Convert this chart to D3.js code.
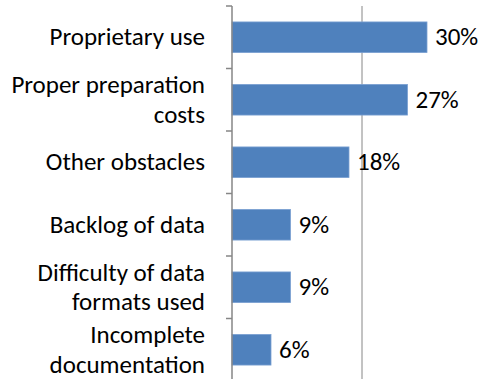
<!DOCTYPE html>
<html><head><meta charset="utf-8">
<script src="https://cdn.jsdelivr.net/npm/d3@7"></script>
<style>
body{margin:0;background:#fff}
text{font-family:Carlito,Calibri,Lato,sans-serif;font-size:25px;fill:#000}
</style>
</head><body>
<svg id="chart" width="489" height="379"></svg>
<script>
// chart data
var categories = [
	['Proprietary use'],
	['Proper preparation', 'costs'],
	['Other obstacles'],
	['Backlog of data'],
	['Difficulty of data', 'formats used'],
	['Incomplete', 'documentation']
];
var values = [0.30, 0.27, 0.18, 0.09, 0.09, 0.06];
var gridTicks = [0.2, 0.4];

var margin = {top: 6, left: 232};
var plotW = 260;
var plotH = 375;
var lineH = 29.5;

var svg = d3.select('#chart');
var keys = categories.map(function(d, i) { return i; });

var x = d3.scaleLinear().domain([0, 0.4]).range([0, plotW]);
var y = d3.scaleBand().domain(keys).range([0, plotH]).paddingInner(0.51).paddingOuter(0.255);

var g = svg.append('g')
	.attr('transform', 'translate(' + margin.left + ',' + margin.top + ')');

// gridlines
g.selectAll('.grid')
	.data(gridTicks)
	.enter()
	.append('line')
	.attr('x1', function(d) { return x(d); })
	.attr('x2', function(d) { return x(d); })
	.attr('y1', 0)
	.attr('y2', plotH)
	.attr('stroke', '#868686')
	.attr('stroke-width', 1);

// bars
g.selectAll('.bar')
	.data(values)
	.enter()
	.append('rect')
	.attr('x', 0)
	.attr('y', function(d, i) { return y(i); })
	.attr('width', function(d) { return x(d); })
	.attr('height', y.bandwidth())
	.attr('fill', '#4f81bd')
	.attr('stroke', '#7aa0d2')
	.attr('stroke-width', 0.8);

// value labels
g.selectAll('.val')
	.data(values)
	.enter()
	.append('text')
	.attr('x', function(d) { return x(d) + 8; })
	.attr('y', function(d, i) { return y(i) + y.bandwidth() / 2 + 8; })
	.text(function(d) { return Math.round(d * 100) + '%'; });

// category axis
var step = y.step();
var yAxis = g.append('g');
yAxis.append('line')
	.attr('x1', 0).attr('x2', 0)
	.attr('y1', 0).attr('y2', plotH)
	.attr('stroke', '#868686')
	.attr('stroke-width', 1.5);

yAxis.selectAll('.tick')
	.data(d3.range(categories.length + 1))
	.enter()
	.append('line')
	.attr('x1', -6).attr('x2', 0)
	.attr('y1', function(d) { return d * step; })
	.attr('y2', function(d) { return d * step; })
	.attr('stroke', '#868686')
	.attr('stroke-width', 1.5);

var labels = yAxis.selectAll('.label')
	.data(categories)
	.enter()
	.append('text')
	.attr('text-anchor', 'end')
	.attr('transform', function(d, i) {
		var cy = y(i) + y.bandwidth() / 2 + 8 - (d.length - 1) * lineH / 2;
		return 'translate(-27,' + cy + ')';
	});

labels.selectAll('tspan')
	.data(function(d) { return d; })
	.enter()
	.append('tspan')
	.attr('x', 0)
	.attr('y', function(d, i) { return i * lineH; })
	.text(function(d) { return d; });
</script>
</body></html>
